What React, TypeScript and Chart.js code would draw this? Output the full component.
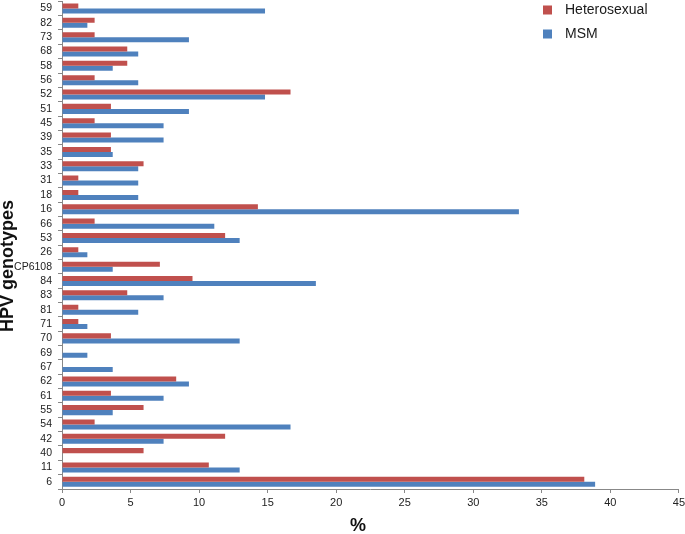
import React, { useEffect, useRef } from "react";
import { Chart, registerables } from "chart.js";

Chart.register(...registerables);

const genotypes = [
  "59", "82", "73", "68", "58", "56", "52", "51", "45", "39", "35", "33", "31", "18", "16", "66", "53",
  "26", "CP6108", "84", "83", "81", "71", "70", "69", "67", "62", "61", "55", "54", "42", "40", "11", "6",
];

const heterosexual = [
  1.19, 2.38, 2.38, 4.76, 4.76, 2.38, 16.67, 3.57, 2.38, 3.57, 3.57, 5.95, 1.19, 1.19, 14.29, 2.38, 11.9,
  1.19, 7.14, 9.52, 4.76, 1.19, 1.19, 3.57, 0, 0, 8.33, 3.57, 5.95, 2.38, 11.9, 5.95, 10.71, 38.1,
];

const msm = [
  14.81, 1.85, 9.26, 5.56, 3.7, 5.56, 14.81, 9.26, 7.41, 7.41, 3.7, 5.56, 5.56, 5.56, 33.33, 11.11, 12.96,
  1.85, 3.7, 18.52, 7.41, 5.56, 1.85, 12.96, 1.85, 3.7, 9.26, 7.41, 3.7, 16.67, 7.41, 0, 12.96, 38.89,
];

const xTicks = [0, 5, 10, 15, 20, 25, 30, 35, 40, 45];

const yTitle = "HPV genotypes";
const xTitle = "%";

const RED = "#C0504D";
const BLUE = "#4F81BD";
const FONT = "'Liberation Sans', Arial, Helvetica, sans-serif";

const SHIFT_Y = 11; // canvas is shifted up by this many pixels
const CANVAS_W = 688;
const CANVAS_H = 534 + SHIFT_Y;

const overlayPlugin = {
  id: "overlayText",
  afterDraw(chart: any) {
    const ctx = chart.ctx;
    ctx.save();
    ctx.translate(0, SHIFT_Y);
    // legend
    chart.data.datasets.forEach((ds: any, i: number) => {
      const y = 10 + i * 24;
      ctx.fillStyle = ds.backgroundColor;
      ctx.fillRect(543, y - 4.5, 9, 9);
      ctx.fillStyle = "#1a1a1a";
      ctx.font = `14px ${FONT}`;
      ctx.textBaseline = "middle";
      ctx.textAlign = "left";
      ctx.fillText(ds.label, 565, y + 0.5);
    });
    // axis titles
    ctx.fillStyle = "#111";
    ctx.font = `bold 18px ${FONT}`;
    ctx.textAlign = "center";
    ctx.textBaseline = "middle";
    ctx.fillText(xTitle, 358, 526);
    ctx.translate(8, 266);
    ctx.rotate(-Math.PI / 2);
    ctx.fillText(yTitle, 0, 0);
    ctx.restore();
  },
};

export default function App() {
  const ref = useRef<HTMLCanvasElement | null>(null);
  useEffect(() => {
    if (!ref.current) return;
    const chart = new Chart(ref.current, {
      type: "bar",
      data: {
        labels: genotypes,
        datasets: [
          { label: "Heterosexual", data: heterosexual, backgroundColor: RED, borderWidth: 0 },
          { label: "MSM", data: msm, backgroundColor: BLUE, borderWidth: 0 },
        ],
      },
      plugins: [overlayPlugin],
      options: {
        indexAxis: "y",
        animation: false,
        responsive: false,
        maintainAspectRatio: false,
        layout: { padding: 0 },
        datasets: { bar: { categoryPercentage: 0.7, barPercentage: 1.0 } },
        plugins: { legend: { display: false }, tooltip: { enabled: false } },
        scales: {
          x: {
            type: "linear",
            min: 0,
            max: 45,
            afterBuildTicks: (scale: any) => {
              scale.ticks = xTicks.map((v) => ({ value: v }));
            },
            afterFit: (scale: any) => {
              scale.height = 45;
            },
            grid: { drawOnChartArea: false, tickLength: 4, color: "#888" },
            border: { color: "#888", width: 1 },
            ticks: { color: "#222", font: { family: FONT, size: 11 }, padding: 3, maxRotation: 0 },
          },
          y: {
            type: "category",
            afterFit: (scale: any) => {
              scale.width = 62;
            },
            grid: { drawOnChartArea: false, tickLength: 4, color: "#888", offset: true },
            border: { color: "#888", width: 1 },
            ticks: { color: "#222", font: { family: FONT, size: 10.5 }, padding: 6, autoSkip: false },
          },
        },
      },
    });
    return () => chart.destroy();
  }, []);
  return (
    <div style={{ position: "fixed", left: 0, top: 0, width: 685, height: 534, overflow: "hidden", background: "#fff" }}>
      <canvas
        ref={ref}
        width={CANVAS_W}
        height={CANVAS_H}
        style={{ position: "absolute", left: 0, top: -SHIFT_Y, width: CANVAS_W, height: CANVAS_H, display: "block" }}
      />
    </div>
  );
}
